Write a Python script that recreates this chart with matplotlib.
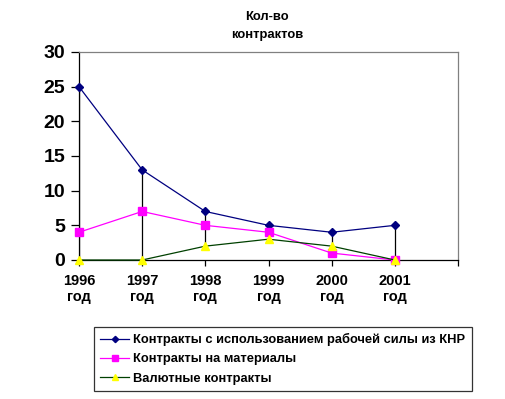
import matplotlib.pyplot as plt

years = ['1996\nгод', '1997\nгод', '1998\nгод', '1999\nгод', '2000\nгод', '2001\nгод']
labor = [25, 13, 7, 5, 4, 5]
materials = [4, 7, 5, 4, 1, 0]
currency = [0, 0, 2, 3, 2, 0]

plt.rcParams['font.family'] = ['Liberation Sans', 'DejaVu Sans']

fig = plt.figure(figsize=(5.05, 3.99), dpi=100)
ax = fig.add_axes([79 / 505, 139 / 399, 379 / 505, 208 / 399])

x = list(range(len(years)))

# high-low lines
highs = [max(a, b, c) for a, b, c in zip(labor, materials, currency)]
lows = [min(a, b, c) for a, b, c in zip(labor, materials, currency)]
ax.vlines(x, lows, highs, color='black', linewidth=0.9, zorder=1)

ax.plot(x, labor, color='#000080', linewidth=0.9, marker='D', markersize=4,
        label='Контракты с использованием рабочей силы из КНР', zorder=3, clip_on=False)
ax.plot(x, materials, color='#FF00FF', linewidth=0.9, marker='s', markersize=6,
        label='Контракты на материалы', zorder=3, clip_on=False)
ax.plot(x, currency, color='#004000', linewidth=0.9, marker='^', markersize=6,
        markerfacecolor='#FFFF00', markeredgecolor='#FFFF00',
        label='Валютные контракты', zorder=4, clip_on=False)

ax.set_xlim(0, 6)
ax.set_ylim(0, 30)
ax.set_yticks([0, 5, 10, 15, 20, 25, 30])
ax.set_xticks(range(7))
ax.set_xticklabels(years + [''], fontsize=10.5, fontweight='bold')
ax.tick_params(axis='y', labelsize=14, length=6, width=0.9, pad=4)
for t in ax.get_yticklabels():
    t.set_fontweight('bold')
ax.tick_params(axis='x', length=4, width=0.9, pad=6)

for s in ['top', 'right']:
    ax.spines[s].set_color('#808080')
    ax.spines[s].set_linewidth(0.9)
for s in ['left', 'bottom']:
    ax.spines[s].set_color('black')
    ax.spines[s].set_linewidth(0.9)

fig.text(267 / 505, 1 - 26 / 399, 'Кол-во\nконтрактов', ha='center', va='center',
         fontsize=9.4, fontweight='bold', linespacing=1.6)

leg = fig.legend(loc='lower left', bbox_to_anchor=(94 / 505, 8 / 399, 378 / 505, 66 / 399),
                 mode='expand', prop={'weight': 'bold', 'size': 9.3},
                 frameon=True, fancybox=False, edgecolor='black', markerscale=0.8,
                 handlelength=2.2, borderaxespad=0, labelspacing=0.55,
                 handletextpad=0.3, borderpad=0.5)
leg.get_frame().set_linewidth(0.9)

fig.savefig('out.png', dpi=100)
